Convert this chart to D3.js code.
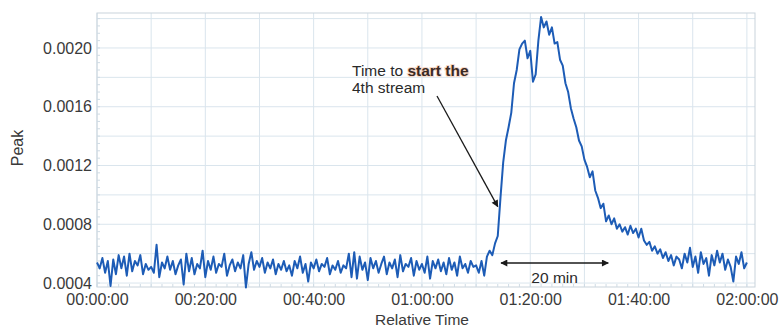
<!DOCTYPE html>
<html lang="en">
<head>
    <meta charset="UTF-8">
    <title>Peak vs Relative Time</title>
    <script src="https://d3js.org/d3.v7.min.js"></script>
    <style>
body {
    margin: 0;
    background: #fff;
    font-family: "Liberation Sans", Arial, sans-serif;
}

svg {
    display: block;
}

.grid line {
    stroke: #dae5ed;
    stroke-width: 1;
}

.tick-label {
    font-size: 16px;
    fill: #3a3a3a;
}

.note {
    font-size: 15.5px;
    fill: #2a2a2a;
}
    </style>
</head>
<body>
    <svg id="chart" width="780" height="327"></svg>

    <script>
// sample every 30 s, starting at 00:00:00
const sampleStep = 0.5; // minutes

// peak value per sample (0 .. 120 min)
const peak = [
    0.00054, 0.00050, 0.00057, 0.00047, 0.00055, 0.00038, 0.00056, 0.00046, 0.00059, 0.00050,
    0.00058, 0.00045, 0.00060, 0.00048, 0.00055, 0.00052, 0.00059, 0.00046, 0.00053, 0.00049,
    0.00051, 0.00047, 0.00066, 0.00044, 0.00054, 0.00050, 0.00058, 0.00049, 0.00055, 0.00046,
    0.00052, 0.00056, 0.00039, 0.00060, 0.00048, 0.00057, 0.00046, 0.00053, 0.00050, 0.00062,
    0.00044, 0.00055, 0.00049, 0.00058, 0.00047, 0.00053, 0.00051, 0.00060, 0.00045, 0.00052,
    0.00056, 0.00048, 0.00054, 0.00050, 0.00059, 0.00037, 0.00053, 0.00061, 0.00049, 0.00055,
    0.00051, 0.00057, 0.00047, 0.00054, 0.00050, 0.00056, 0.00046, 0.00053, 0.00049, 0.00055,
    0.00048, 0.00052, 0.00045, 0.00055, 0.00050, 0.00058, 0.00047, 0.00053, 0.00041, 0.00054,
    0.00050, 0.00056, 0.00048, 0.00053, 0.00051, 0.00057, 0.00046, 0.00052, 0.00049, 0.00055,
    0.00047, 0.00052, 0.00050, 0.00060, 0.00044, 0.00061, 0.00043, 0.00058, 0.00049, 0.00054,
    0.00042, 0.00057, 0.00050, 0.00055, 0.00047, 0.00053, 0.00058, 0.00046, 0.00054, 0.00050,
    0.00056, 0.00044, 0.00059, 0.00048, 0.00053, 0.00051, 0.00057, 0.00045, 0.00055, 0.00049,
    0.00053, 0.00047, 0.00058, 0.00043, 0.00055, 0.00050, 0.00056, 0.00048, 0.00054, 0.00046,
    0.00057, 0.00049, 0.00054, 0.00045, 0.00058, 0.00050, 0.00053, 0.00047, 0.00055, 0.00051,
    0.00052, 0.00047, 0.00055, 0.00045, 0.00058, 0.00062, 0.00059, 0.00067, 0.00072, 0.00098,
    0.00122, 0.00137, 0.00146, 0.00156, 0.00176, 0.00185, 0.00199, 0.00203, 0.00205, 0.00193,
    0.00198, 0.00177, 0.00182, 0.00205, 0.00221, 0.00214, 0.00218, 0.00209, 0.00214, 0.00203,
    0.00204, 0.00192, 0.00188, 0.00176, 0.00170, 0.00159, 0.00152, 0.00146, 0.00137, 0.00133,
    0.00124, 0.00119, 0.00112, 0.00116, 0.00103, 0.00098, 0.00091, 0.00094, 0.00082, 0.00086,
    0.00080, 0.00084, 0.00077, 0.00080, 0.00075, 0.00078, 0.00073, 0.00079, 0.00074, 0.00077,
    0.00071, 0.00077, 0.00069, 0.00066, 0.00068, 0.00062, 0.00065, 0.00060, 0.00063, 0.00057,
    0.00061, 0.00055, 0.00059, 0.00052, 0.00058, 0.00056, 0.00050, 0.00060, 0.00054, 0.00064,
    0.00051, 0.00058, 0.00047, 0.00061, 0.00053, 0.00057, 0.00045, 0.00059, 0.00052, 0.00062,
    0.00054, 0.00060, 0.00049, 0.00056, 0.00051, 0.00041, 0.00058, 0.00053, 0.00061, 0.00050,
    0.00054
];

const xTicks = [0, 20, 40, 60, 80, 100, 120];           // minutes
const yTicks = [0.0004, 0.0008, 0.0012, 0.0016, 0.0020];
const xGrid = d3.range(0, 121, 10);
const yGrid = [0.0004, 0.0006, 0.0008, 0.0010, 0.0012, 0.0014, 0.0016, 0.0018, 0.0020, 0.0022];

const data = peak.map((v, i) => ({ t: i * sampleStep, v: v }));

const plotLeft = 97, plotRight = 755, plotTop = 13, plotBottom = 287;

const x = d3.scaleLinear().domain([0, 121.5]).range([plotLeft, plotRight]);
const y = d3.scaleLinear().domain([0.000373, 0.002238]).range([plotBottom, plotTop]);

const svg = d3.select("#chart");

// arrow heads
const defs = svg.append("defs");
defs.append("marker")
    .attr("id", "head")
    .attr("viewBox", "0 0 10 10")
    .attr("refX", 9).attr("refY", 5)
    .attr("markerWidth", 9).attr("markerHeight", 7)
    .attr("markerUnits", "userSpaceOnUse")
    .attr("orient", "auto-start-reverse")
    .append("path")
    .attr("d", "M0,0 L10,5 L0,10 z")
    .attr("fill", "#1a1a1a");

// grid
const grid = svg.append("g").attr("class", "grid");
grid.selectAll(".gx").data(xGrid).join("line")
    .attr("x1", d => x(d)).attr("x2", d => x(d))
    .attr("y1", plotTop).attr("y2", plotBottom);
grid.selectAll(".gy").data(yGrid).join("line")
    .attr("x1", plotLeft).attr("x2", plotRight)
    .attr("y1", d => y(d)).attr("y2", d => y(d));

// frame
svg.append("rect")
    .attr("x", plotLeft).attr("y", plotTop)
    .attr("width", plotRight - plotLeft).attr("height", plotBottom - plotTop)
    .attr("fill", "none")
    .attr("stroke", "#c9d3db");

// light minor ticks on the frame
const minorX = d3.range(0, 121.5, 2);
svg.append("g").selectAll("line").data(minorX).join("line")
    .attr("x1", d => x(d)).attr("x2", d => x(d))
    .attr("y1", plotBottom - 3).attr("y2", plotBottom)
    .attr("stroke", "#cfdbe4");
const minorY = d3.range(0.0004, 0.00223, 0.00005);
svg.append("g").selectAll("line").data(minorY).join("line")
    .attr("x1", plotLeft).attr("x2", plotLeft + 3)
    .attr("y1", d => y(d)).attr("y2", d => y(d))
    .attr("stroke", "#cfdbe4");

// axes (labels only, the frame draws the lines)
const fmtTime = m => {
    const h = Math.floor(m / 60), mm = m % 60;
    return String(h).padStart(2, "0") + ":" + String(mm).padStart(2, "0") + ":00";
};

const xAxis = svg.append("g")
    .attr("transform", `translate(0,${plotBottom})`)
    .call(d3.axisBottom(x).tickValues(xTicks).tickFormat(fmtTime).tickSize(0).tickPadding(7));
const yAxis = svg.append("g")
    .attr("transform", `translate(${plotLeft},0)`)
    .call(d3.axisLeft(y).tickValues(yTicks).tickFormat(d3.format(".4f")).tickSize(0).tickPadding(5));
[xAxis, yAxis].forEach(a => {
    a.select(".domain").remove();
    a.selectAll("text")
        .attr("class", "tick-label")
        .style("font-family", "'Liberation Sans', Arial, sans-serif")
        .style("font-size", "16px");
});

svg.append("text")
    .attr("class", "note")
    .attr("x", 422).attr("y", 325)
    .attr("text-anchor", "middle")
    .style("fill", "#3a3a3a")
    .text("Relative Time");

svg.append("text")
    .attr("class", "tick-label")
    .attr("transform", "translate(23,148) rotate(-90)")
    .attr("text-anchor", "middle")
    .text("Peak");

// series
const line = d3.line().x(d => x(d.t)).y(d => y(d.v));
svg.append("path")
    .datum(data)
    .attr("fill", "none")
    .attr("stroke", "#1d5cb6")
    .attr("stroke-width", 2)
    .attr("stroke-linejoin", "round")
    .attr("d", line);

// annotation: start of the 4th stream
const note = svg.append("text")
    .attr("class", "note")
    .attr("x", 352).attr("y", 76);
note.append("tspan").text("Time to ");
note.append("tspan")
    .text("start the")
    .style("font-weight", "bold")
    .style("fill", "#3a2a24")
    .style("stroke", "#f7d9c9")
    .style("stroke-width", 2)
    .style("paint-order", "stroke");
svg.append("text")
    .attr("class", "note")
    .attr("x", 352).attr("y", 93)
    .text("4th stream");

svg.append("line")
    .attr("x1", 437).attr("y1", 96)
    .attr("x2", x(74)).attr("y2", y(0.00092))
    .attr("stroke", "#1a1a1a")
    .attr("stroke-width", 1.3)
    .attr("marker-end", "url(#head)");

// 20 min span
svg.append("line")
    .attr("x1", x(74.6)).attr("x2", x(94.4))
    .attr("y1", 263).attr("y2", 263)
    .attr("stroke", "#1a1a1a")
    .attr("stroke-width", 1.3)
    .attr("marker-start", "url(#head)")
    .attr("marker-end", "url(#head)");
svg.append("text")
    .attr("class", "note")
    .attr("x", x(84.5)).attr("y", 283)
    .attr("text-anchor", "middle")
    .text("20 min");
    </script>
</body>
</html>
